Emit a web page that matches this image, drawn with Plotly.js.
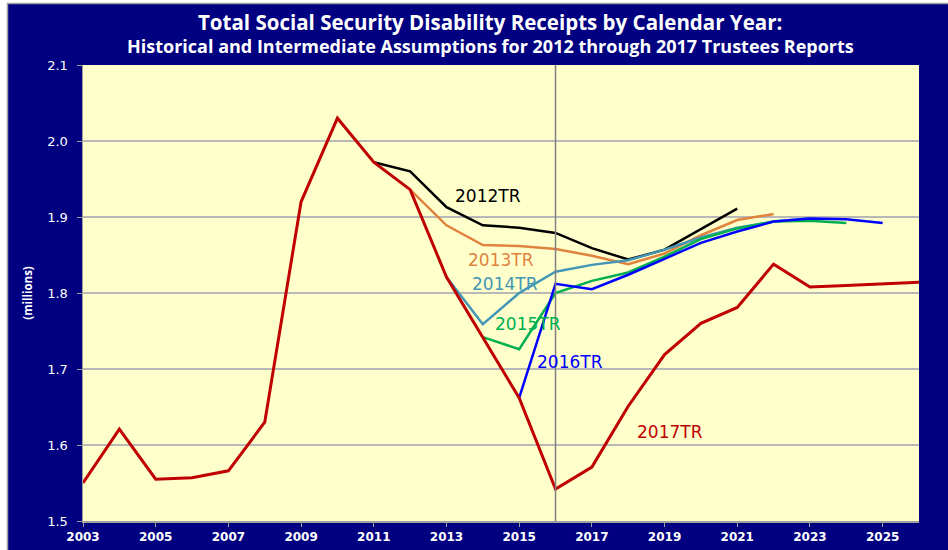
<!DOCTYPE html>
<html>
<head>
<meta charset="utf-8">
<script src="https://cdn.plot.ly/plotly-3.0.1.min.js"></script>
<style>html,body{margin:0;padding:0;background:#fff;}#chart{width:948px;height:550px;}</style>
</head>
<body>
<div id="chart"></div>
<script>
// ---- data (millions) ----
const years2017 = [2003,2004,2005,2006,2007,2008,2009,2010,2011,2012,2013,2014,2015,2016,2017,2018,2019,2020,2021,2022,2023,2024,2025,2026];
const tr2017 = [1.550,1.621,1.555,1.557,1.566,1.630,1.920,2.030,1.972,1.936,1.821,1.742,1.662,1.542,1.571,1.651,1.719,1.760,1.781,1.838,1.808,1.810,1.812,1.814];
const years2012 = [2011,2012,2013,2014,2015,2016,2017,2018,2019,2020,2021];
const tr2012 = [1.972,1.960,1.913,1.889,1.886,1.879,1.859,1.844,1.857,1.884,1.911];
const years2013 = [2012,2013,2014,2015,2016,2017,2018,2019,2020,2021,2022];
const tr2013 = [1.936,1.889,1.863,1.862,1.858,1.849,1.838,1.852,1.876,1.896,1.904];
const years2014 = [2013,2014,2015,2016,2017,2018,2019,2020,2021,2022,2023];
const tr2014 = [1.821,1.759,1.800,1.828,1.837,1.843,1.857,1.873,1.886,1.894,1.898];
const years2015 = [2014,2015,2016,2017,2018,2019,2020,2021,2022,2023,2024];
const tr2015 = [1.742,1.726,1.800,1.816,1.827,1.848,1.871,1.885,1.894,1.895,1.892];
const years2016 = [2015,2016,2017,2018,2019,2020,2021,2022,2023,2024,2025];
const tr2016 = [1.662,1.812,1.805,1.824,1.845,1.866,1.881,1.894,1.898,1.897,1.892];
const xTicks = [2003,2005,2007,2009,2011,2013,2015,2017,2019,2021,2023,2025];
const yTicks = [1.5,1.6,1.7,1.8,1.9,2.0,2.1];
const seriesNames = ['2012TR','2013TR','2014TR','2015TR','2016TR','2017TR'];
const labelX = [2014.15,2014.5,2014.62,2015.25,2016.41,2019.16];
const labelY = [1.9276,1.8434,1.812,1.759,1.709,1.617];
const todayYear = 2016;

const colors = ['#000000','#E0833F','#4396B5','#00B050','#0000FF','#C00000'];
const xs = [years2012,years2013,years2014,years2015,years2016,years2017];
const ys = [tr2012,tr2013,tr2014,tr2015,tr2016,tr2017];

const traces = xs.map((x,i)=>({
  x:x, y:ys[i], type:'scatter', mode:'lines', name:seriesNames[i],
  line:{color:colors[i], width: i===5 ? 3 : 2.5}, hoverinfo:'skip'
}));

const annotations = seriesNames.map((n,i)=>({
  x:labelX[i], y:labelY[i], xref:'x', yref:'y', text:n, showarrow:false,
  font:{family:'DejaVu Sans', size:17, color:colors[i]}, xanchor:'center', yanchor:'middle'
}));
annotations.push({
  xref:'paper', yref:'paper', x:0.487, y:1.1425-22/456, text:'Total Social Security Disability Receipts by Calendar Year:',
  showarrow:false, font:{family:'Open Sans', size:20.5, color:'#ffffff', weight:'bold'}, xanchor:'center', yanchor:'middle'
});
annotations.push({
  xref:'paper', yref:'paper', x:0.487, y:1.1425-46/456, text:'Historical and Intermediate Assumptions for 2012 through 2017 Trustees Reports',
  showarrow:false, font:{family:'Open Sans', size:18, color:'#ffffff', weight:'bold'}, xanchor:'center', yanchor:'middle'
});

const W = 836, H = 456;
const px = v => (v-83)/W;
const py = v => (521-v)/H;

const shapes = [
  {type:'line', xref:'x', yref:'paper', x0:todayYear, x1:todayYear, y0:0, y1:1, line:{color:'#808080', width:1.5}, layer:'above'},
  {type:'rect', xref:'paper', yref:'paper', x0:px(0), x1:px(948), y0:py(0), y1:py(3), fillcolor:'#ffffff', line:{width:0}, layer:'below'},
  {type:'line', xref:'paper', yref:'paper', x0:px(7), x1:px(948), y0:py(3.5), y1:py(3.5), line:{color:'#a0a0a0', width:1.5}, layer:'below'},
  {type:'rect', xref:'paper', yref:'paper', x0:px(0), x1:px(7), y0:py(0), y1:py(550), fillcolor:'#ffffff', line:{width:0}, layer:'below'},
  {type:'line', xref:'paper', yref:'paper', x0:px(7.5), x1:px(7.5), y0:py(3), y1:py(550), line:{color:'#a0a0a0', width:1.5}, layer:'below'}
];

const layout = {
  width:948, height:550,
  margin:{l:83, r:29, t:65, b:29, pad:0},
  paper_bgcolor:'#000080', plot_bgcolor:'#FFFFCC',
  showlegend:false,
  xaxis:{range:[2003,2026], tickvals:xTicks, ticktext:xTicks.map(String), showgrid:false, zeroline:false,
    showline:true, linecolor:'#A0A0A0', linewidth:1.5, ticks:'outside', ticklen:4, tickcolor:'#A0A0A0',
    tickfont:{family:'DejaVu Sans', size:12, color:'#ffffff', weight:'bold'}},
  yaxis:{range:[1.5,2.1], tickvals:yTicks, ticktext:yTicks.map(v=>v.toFixed(1)), showgrid:true, gridcolor:'#B8B8B8', gridwidth:1.5,
    zeroline:false, showline:true, linecolor:'#A0A0A0', linewidth:1.5, ticks:'outside', ticklen:5, tickcolor:'#A0A0A0',
    tickfont:{family:'DejaVu Sans', size:13, color:'#ffffff'}, ticklabelstandoff:6,
    title:{text:'(millions)', font:{family:'Open Sans', size:11.5, color:'#ffffff', weight:'bold'}, standoff:12}},
  annotations:annotations,
  shapes:shapes
};

Plotly.newPlot('chart', traces, layout, {displayModeBar:false, staticPlot:true});
</script>
</body>
</html>
